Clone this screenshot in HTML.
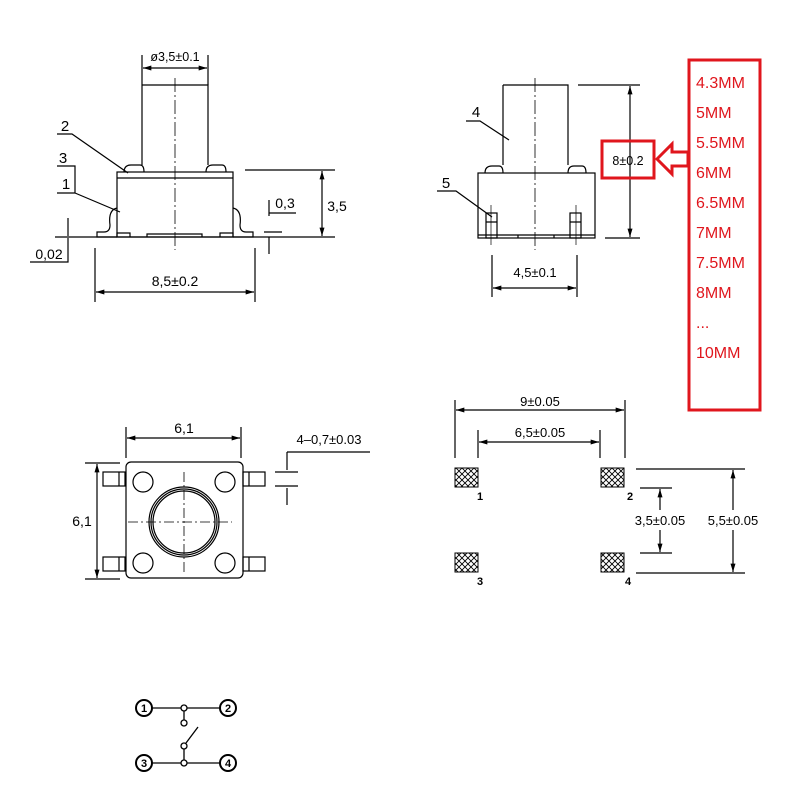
<!DOCTYPE html>
<html><head><meta charset="utf-8"><style>html,body{margin:0;padding:0;background:#fff}svg{display:block}text{font-family:"Liberation Sans","DejaVu Sans",sans-serif}</style></head><body>
<svg width="800" height="800" viewBox="0 0 800 800" xmlns="http://www.w3.org/2000/svg">
<defs>
<marker id="a" viewBox="0 0 10 6" refX="10" refY="3" markerWidth="9" markerHeight="5" orient="auto-start-reverse" markerUnits="userSpaceOnUse"><path d="M0,0L10,3L0,6z" fill="#000"/></marker>
<pattern id="h" width="6" height="6" patternUnits="userSpaceOnUse"><path d="M0,0L6,6M6,0L0,6" stroke="#000" stroke-width="0.9"/></pattern>
</defs>
<g fill="none" stroke="#000" stroke-width="1.2">
<path d="M142,85H208V165M142,85V165"/>
<path d="M124,172Q124,165 131,165H140Q144,165 144,172M206,172Q206,165 213,165H222Q226,165 226,172"/>
<rect x="117" y="172" width="116" height="65"/>
<line x1="117" y1="178" x2="233" y2="178"/>
<path d="M117,208Q108,210 110,225Q110,232 104,232H97V237H117M233,208Q242,210 240,225Q240,232 246,232H253V237H233"/>
<path d="M117,237V233H130V237M147,237V234H202V237M220,237V233H233V237"/>
<line x1="175" y1="78" x2="175" y2="250" stroke-dasharray="14,3,2,3" stroke-width="0.8"/>
<line x1="55" y1="237" x2="335" y2="237"/>
<path d="M142,55V85M208,55V85"/>
<line x1="143" y1="68" x2="207" y2="68" marker-start="url(#a)" marker-end="url(#a)"/>
<path d="M245,170H335"/>
<line x1="322" y1="171" x2="322" y2="236" marker-start="url(#a)" marker-end="url(#a)"/>
<path d="M269,213H296M264,232H282M269,200V216M269,237V254"/>
<path d="M68,218V236M68,238V262H30"/>
<path d="M95,248V302M255,248V302"/>
<line x1="96" y1="292" x2="254" y2="292" marker-start="url(#a)" marker-end="url(#a)"/>
<path d="M57,134H72L128,173M57,166H75V193H57M75,193L120,212"/>
<path d="M503,85H568V165M503,85V165"/>
<path d="M485,173Q485,166 492,166H499Q503,166 503,173M568,173Q568,166 574,166H582Q586,166 586,173"/>
<rect x="478" y="173" width="117" height="65"/>
<path d="M478,235H595M518,235V238M554,235V238"/>
<rect x="486" y="213" width="11" height="25"/><rect x="570" y="213" width="11" height="25"/>
<path d="M486,222H497M570,222H581"/>
<line x1="535" y1="78" x2="535" y2="250" stroke-dasharray="14,3,2,3" stroke-width="0.8"/>
<path d="M491,205V245M576,205V245" stroke-width="0.7"/>
<path d="M578,85H640M605,238H640"/>
<line x1="630" y1="86" x2="630" y2="237" marker-start="url(#a)" marker-end="url(#a)"/>
<path d="M492,255V297M577,255V297"/>
<line x1="493" y1="288" x2="576" y2="288" marker-start="url(#a)" marker-end="url(#a)"/>
<path d="M466,121H480L509,140M437,191H456L492,217"/>
<rect x="126" y="462" width="117" height="116" rx="5"/>
<circle cx="143" cy="482" r="10"/><circle cx="225" cy="482" r="10"/><circle cx="143" cy="563" r="10"/><circle cx="225" cy="563" r="10"/>
<circle cx="184" cy="522" r="35"/><circle cx="184" cy="522" r="33"/><circle cx="184" cy="522" r="31"/>
<path d="M128,522H232M184,472V575" stroke-dasharray="10,3,2,3" stroke-width="0.8"/>
<rect x="103" y="472" width="22" height="14"/><rect x="103" y="557" width="22" height="14"/>
<rect x="243" y="472" width="22" height="14"/><rect x="243" y="557" width="22" height="14"/>
<path d="M119,472V486M119,557V571M249,472V486M249,557V571"/>
<path d="M126,427V458M241,427V458"/>
<line x1="127" y1="438" x2="240" y2="438" marker-start="url(#a)" marker-end="url(#a)"/>
<path d="M85,463H120M85,579H120"/>
<line x1="97" y1="464" x2="97" y2="578" marker-start="url(#a)" marker-end="url(#a)"/>
<path d="M287,452H370M287,452V470M287,488V505M275,472H298M275,486H298"/>
<path d="M455,400V458M625,400V458M478,430V458M600,430V458"/>
<line x1="456" y1="410" x2="624" y2="410" marker-start="url(#a)" marker-end="url(#a)"/>
<line x1="479" y1="442" x2="599" y2="442" marker-start="url(#a)" marker-end="url(#a)"/>
<path d="M636,469H745M636,573H745M640,488H672M640,553H672"/>
<line x1="660" y1="489" x2="660" y2="510" marker-start="url(#a)"/>
<line x1="660" y1="530" x2="660" y2="552" marker-end="url(#a)"/>
<line x1="733" y1="470" x2="733" y2="510" marker-start="url(#a)"/>
<line x1="733" y1="530" x2="733" y2="572" marker-end="url(#a)"/>
</g>
<g fill="url(#h)" stroke="#000" stroke-width="1">
<rect x="455" y="468" width="23" height="19"/><rect x="601" y="468" width="23" height="19"/>
<rect x="455" y="553" width="23" height="19"/><rect x="601" y="553" width="23" height="19"/>
</g>
<g font-size="14" fill="#000">
<text x="175" y="61" text-anchor="middle" font-size="12.5">ø3,5±0.1</text>
<text x="337" y="211" text-anchor="middle">3,5</text>
<text x="285" y="208" text-anchor="middle">0,3</text>
<text x="49" y="259" text-anchor="middle">0,02</text>
<text x="175" y="286" text-anchor="middle">8,5±0.2</text>
<text x="65" y="131" text-anchor="middle" font-size="15">2</text>
<text x="63" y="163" text-anchor="middle" font-size="15">3</text>
<text x="66" y="189" text-anchor="middle" font-size="15">1</text>
<text x="476" y="117" text-anchor="middle" font-size="15">4</text>
<text x="446" y="188" text-anchor="middle" font-size="15">5</text>
<text x="535" y="277" text-anchor="middle" font-size="13">4,5±0.1</text>
<text x="184" y="433" text-anchor="middle">6,1</text>
<text x="82" y="526" text-anchor="middle">6,1</text>
<text x="329" y="444" text-anchor="middle" font-size="13">4–0,7±0.03</text>
<text x="540" y="406" text-anchor="middle" font-size="13">9±0.05</text>
<text x="540" y="437" text-anchor="middle" font-size="13">6,5±0.05</text>
<text x="660" y="525" text-anchor="middle" font-size="13">3,5±0.05</text>
<text x="733" y="525" text-anchor="middle" font-size="13">5,5±0.05</text>
<g font-weight="bold" font-size="11"><text x="477" y="500">1</text><text x="627" y="500">2</text><text x="477" y="585">3</text><text x="625" y="585">4</text></g>
</g>
<rect x="602" y="141" width="52" height="37" fill="none" stroke="#e0161d" stroke-width="3"/>
<text x="628" y="165" text-anchor="middle" font-size="12.5" fill="#000">8±0.2</text>
<path d="M657,159L672,144V152H688V166H672V174Z" fill="#fff" stroke="#e0161d" stroke-width="3"/>
<rect x="689" y="60" width="71" height="350" fill="none" stroke="#e0161d" stroke-width="3"/>
<g fill="#e0161d" font-size="16">
<text x="696" y="88">4.3MM</text><text x="696" y="118">5MM</text><text x="696" y="148">5.5MM</text><text x="696" y="178">6MM</text><text x="696" y="208">6.5MM</text><text x="696" y="238">7MM</text><text x="696" y="268">7.5MM</text><text x="696" y="298">8MM</text><text x="696" y="328">...</text><text x="696" y="358">10MM</text>
</g>
<g fill="none" stroke="#000" stroke-width="1.3">
<path d="M152,708H181M187,708H220M152,763H181M187,763H220M184,711V720M184,749V760M186,743L198,727"/>
<circle cx="144" cy="708" r="8" stroke-width="2"/><circle cx="228" cy="708" r="8" stroke-width="2"/>
<circle cx="144" cy="763" r="8" stroke-width="2"/><circle cx="228" cy="763" r="8" stroke-width="2"/>
<circle cx="184" cy="708" r="3"/><circle cx="184" cy="723" r="3"/><circle cx="184" cy="746" r="3"/><circle cx="184" cy="763" r="3"/>
</g>
<g font-size="11" font-weight="bold" text-anchor="middle"><text x="144" y="712">1</text><text x="228" y="712">2</text><text x="144" y="767">3</text><text x="228" y="767">4</text></g>
</svg>
</body></html>
